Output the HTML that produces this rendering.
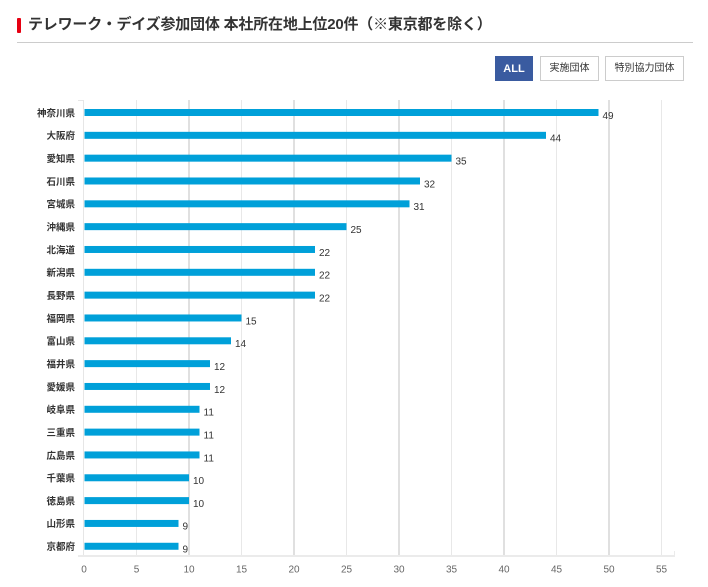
<!DOCTYPE html>
<html><head><meta charset="utf-8">
<style>
html,body{margin:0;padding:0;background:#fff;width:708px;height:587px;overflow:hidden;}
body{position:relative;font-family:"Liberation Sans","Noto Sans CJK JP",sans-serif;}
.redbar{position:absolute;left:17px;top:18px;width:4px;height:15px;background:#e60012;border-radius:1px;}
.title{position:absolute;left:28px;top:15px;font-size:15px;font-weight:bold;color:#333;white-space:nowrap;line-height:20px;letter-spacing:-0.2px;}
.divider{position:absolute;left:17px;top:42px;width:676px;height:1px;background:#ccc;}
.btn{position:absolute;top:56px;height:25px;box-sizing:border-box;font-size:10px;line-height:23px;text-align:center;color:#333;border:1px solid #ccc;background:#fff;}
.btn.all{background:#3a5ba0;border-color:#3a5ba0;color:#fff;font-weight:bold;font-size:11px;line-height:24px;}
svg{position:absolute;left:0;top:0;}
</style></head><body>
<div class="redbar"></div>
<div class="title">テレワーク・デイズ参加団体 本社所在地上位20件（※東京都を除く）</div>
<div class="divider"></div>
<div class="btn all" style="left:495px;width:38px;">ALL</div>
<div class="btn" style="left:540px;width:59px;">実施団体</div>
<div class="btn" style="left:605px;width:79px;">特別協力団体</div>
<svg width="708" height="587" xmlns="http://www.w3.org/2000/svg" font-family="Liberation Sans, Noto Sans CJK JP, sans-serif">
</svg>
<script>
(function(){
var ns="http://www.w3.org/2000/svg";
var svg=document.querySelector("svg");
function el(n,a,t){var e=document.createElementNS(ns,n);for(var k in a)e.setAttribute(k,a[k]);if(t!==undefined)e.textContent=t;svg.appendChild(e);return e;}
var x0=84,u=10.5;
for(var v=5;v<=55;v+=5){
 var x=x0+v*u;
 var major=(v%10===0);
 el("line",{x1:x,x2:x,y1:100,y2:555,stroke:major?"#e0e0e0":"#e8e8e8","stroke-width":major?2:1});
}
el("line",{x1:83.5,x2:83.5,y1:100,y2:556,stroke:"#e6e6e6","stroke-width":1});
el("line",{x1:78,x2:84,y1:100.5,y2:100.5,stroke:"#e6e6e6","stroke-width":1});
el("line",{x1:78,x2:675,y1:556,y2:556,stroke:"#ebebeb","stroke-width":2});
el("line",{x1:674.5,x2:674.5,y1:551,y2:556,stroke:"#ebebeb","stroke-width":1});
for(var v=0;v<=55;v+=5){
 el("text",{x:x0+v*u,y:572.5,"font-size":"10",fill:"#666","text-anchor":"middle"},String(v));
}
var names=["神奈川県","大阪府","愛知県","石川県","宮城県","沖縄県","北海道","新潟県","長野県","福岡県","富山県","福井県","愛媛県","岐阜県","三重県","広島県","千葉県","徳島県","山形県","京都府"];
var vals=[49,44,35,32,31,25,22,22,22,15,14,12,12,11,11,11,10,10,9,9];
for(var i=0;i<20;i++){
 var top=109+i*22.83;
 var w=vals[i]*u;
 el("rect",{x:84.5,y:top,width:w-0.5,height:7,fill:"#00a0d9"});
 el("text",{x:75,y:top+7.3,"font-size":"9.5","font-weight":"bold",fill:"#333","text-anchor":"end"},names[i]);
 el("text",{x:x0+w+4,y:top+9.8,"font-size":"10",fill:"#333"},String(vals[i]));
}
})();
</script>
</body></html>
